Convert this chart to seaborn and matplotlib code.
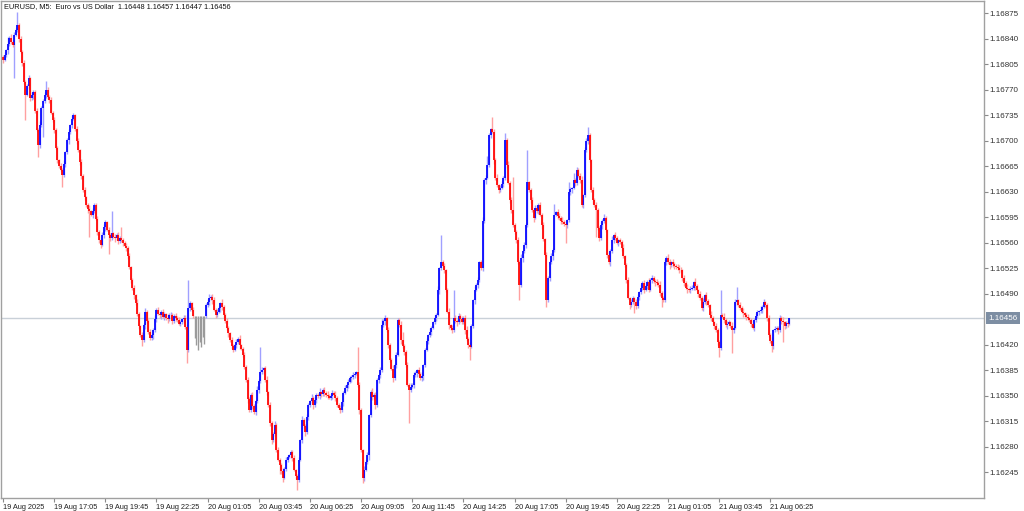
import numpy as np
import seaborn as sns
import matplotlib.pyplot as plt
from matplotlib import transforms

# EURUSD M5 candles, closes in points above 1.16000 (1 point = 0.00001)
first_open = 815
closes = [
    811, 818, 824, 832, 841, 836, 831, 845, 852, 859,
    840, 822, 806, 781, 763, 775, 786, 758, 762, 767,
    741, 715, 694, 722, 745, 754, 763, 770, 760, 756,
    738, 728, 715, 690, 673, 665, 660, 653, 668, 684,
    701, 712, 721, 730, 735, 716, 700, 687, 670, 651,
    632, 622, 612, 606, 603, 598, 604, 612, 593, 575,
    563, 557, 570, 581, 588, 578, 570, 566, 573, 568,
    566, 570, 562, 567, 564, 560, 556, 553, 541, 526,
    509, 498, 488, 477, 462, 445, 433, 426, 447, 465,
    452, 438, 429, 433, 440, 455, 468, 462, 460, 465,
    458, 462, 457, 455, 460, 461, 452, 459, 457, 454,
    449, 451, 455, 457, 444, 413, 470, 477, 468, 459,
    459, 459, 459, 459, 459, 459, 459,
    474, 479, 484,
    486, 481, 468, 461, 465, 470, 477, 471, 461, 452,
    443, 436, 426, 418, 413, 420, 424, 428, 419, 414,
    406, 390, 371, 345, 330, 351, 336, 328, 342, 358,
    370, 382, 385, 388, 372, 355, 337, 312, 289, 298,
    310, 275, 262, 255, 246, 237, 250, 262, 266, 268,
    272, 264, 248, 240, 234, 262, 289, 317, 309, 300,
    321, 337, 342, 347, 337, 344, 351, 349, 355, 352,
    358, 354, 351, 349, 347, 350, 354, 351, 347, 337,
    333, 330, 341, 354, 360, 365, 369, 374, 376, 378,
    380, 382, 365, 330, 275, 237, 248, 259, 268, 323,
    355, 348, 351, 337, 371, 378, 385, 447, 452, 456,
    440, 419, 399, 387, 374, 392, 406, 454, 447, 426,
    418, 410, 392, 365, 358, 362, 365, 378, 381, 385,
    380, 374, 377, 392, 413, 425, 433, 438, 443, 451,
    456, 461, 495, 525, 533, 528, 522, 495, 465, 447,
    443, 440, 457, 453, 451, 459, 455, 451, 457, 440,
    428, 419, 417, 446, 481, 495, 502, 509, 533, 525,
    590, 646, 649, 667, 708, 716, 712, 673, 649, 639,
    632, 635, 641, 649, 701, 667, 642, 618, 605, 584,
    575, 564, 533, 502, 539, 548, 557, 584, 643, 632,
    618, 605, 594, 608, 603, 612, 598, 584, 565, 543,
    481, 511, 533, 541, 550, 598, 602, 597, 594, 590,
    588, 586, 584, 591, 629, 633, 635, 646, 642, 660,
    652, 646, 612, 625, 687, 700, 708, 673, 632, 618,
    611, 605, 580, 566, 584, 590, 594, 577, 543, 533,
    548, 564, 570, 566, 560, 563, 561, 553, 541, 529,
    509, 484, 474, 478, 484, 479, 473, 486, 492, 498,
    505, 495, 501, 506, 495, 509, 511, 508, 506, 504,
    502, 491, 484, 481, 533, 539, 534, 529, 533, 530,
    528, 526, 525, 523, 522, 511, 504, 498, 496, 495,
    497, 498, 506, 500, 495, 490, 484, 470, 479, 488,
    480, 474, 461, 456, 451, 446, 440, 424, 415, 461,
    458, 454, 447, 449, 451, 446, 440, 443, 478, 481,
    475, 470, 465, 463, 461, 458, 456, 454, 449, 443,
    454, 459, 465, 466, 468, 472, 478, 474, 456, 433,
    425, 418, 440, 442, 443, 440, 456, 453, 451, 445,
    450, 448, 456,
]

# upper / lower shadow length beyond the body, in points
wick_hi = [
    3, 4, 2, 10, 3, 5, 2, 4, 3, 17, 2, 4, 3, 5, 2, 3, 4, 2, 5, 3,
    2, 4, 3, 5, 2, 3, 4, 12, 3, 2, 4, 3, 5, 2, 3, 2, 4, 3, 5, 2,
    3, 4, 2, 5, 3, 2, 4, 3, 2, 5, 3, 4, 2, 3, 5, 2, 4, 3, 2, 4,
    3, 2, 5, 4, 3, 2, 4, 3, 30, 2, 4, 3, 5, 2, 14, 3, 2, 4, 3, 5,
    2, 3, 4, 2, 5, 3, 2, 4, 3, 5, 2, 3, 4, 2, 3, 5, 2, 4, 3, 2,
    4, 3, 2, 5, 3, 4, 2, 3, 5, 2, 4, 3, 2, 4, 3, 5, 39, 3, 2, 4,
    0, 0, 0, 0, 0, 0, 0, 3, 4, 6, 2, 3, 5, 2, 4, 3, 2, 5, 3, 2,
    4, 3, 2, 5, 3, 2, 4, 3, 5, 2, 3, 4, 2, 5, 3, 2, 4, 3, 2, 5,
    3, 35, 4, 2, 3, 5, 2, 4, 3, 2, 5, 3, 4, 2, 3, 5, 2, 4, 3, 2,
    4, 3, 5, 2, 3, 4, 2, 5, 3, 2, 4, 3, 2, 5, 3, 4, 2, 3, 5, 2,
    3, 4, 2, 5, 3, 2, 4, 3, 5, 2, 3, 4, 2, 3, 5, 2, 4, 3, 2, 4,
    3, 2, 35, 4, 3, 2, 5, 3, 4, 2, 3, 5, 2, 4, 3, 2, 4, 8, 3, 5,
    2, 4, 3, 2, 5, 3, 4, 2, 3, 5, 12, 3, 2, 4, 3, 5, 2, 4, 3, 2,
    4, 3, 5, 2, 3, 4, 2, 5, 3, 2, 4, 3, 5, 2, 37, 3, 4, 2, 3, 5,
    2, 4, 38, 3, 2, 5, 3, 4, 2, 3, 5, 2, 4, 3, 2, 5, 3, 4, 2, 3,
    5, 3, 4, 12, 3, 2, 16, 4, 3, 5, 2, 4, 3, 2, 10, 3, 5, 2, 4, 45,
    3, 2, 4, 3, 5, 2, 4, 3, 44, 2, 3, 5, 2, 4, 3, 2, 4, 3, 5, 2,
    4, 3, 2, 5, 3, 15, 2, 4, 3, 2, 5, 3, 4, 2, 14, 3, 2, 10, 3, 4,
    2, 3, 5, 2, 4, 3, 11, 3, 2, 4, 3, 5, 2, 3, 4, 2, 5, 3, 2, 4,
    3, 5, 2, 4, 3, 2, 4, 3, 5, 2, 3, 4, 2, 5, 3, 2, 4, 3, 2, 5,
    3, 4, 2, 3, 5, 2, 4, 3, 2, 4, 3, 5, 2, 3, 4, 2, 5, 3, 2, 4,
    3, 2, 5, 4, 3, 2, 4, 3, 5, 2, 3, 4, 2, 5, 3, 2, 4, 3, 5, 2,
    4, 3, 2, 5, 3, 2, 4, 3, 2, 34, 3, 5, 2, 4, 3, 2, 5, 3, 4, 18,
    2, 4, 3, 5, 2, 3, 4, 2, 3, 5, 2, 4, 3, 2, 5, 3, 4, 2, 3, 4,
    3, 5, 2, 4, 3, 2, 4, 3, 5, 2, 3, 4, 1,
]
wick_lo = [
    4, 2, 3, 5, 2, 4, 3, 45, 2, 3, 5, 2, 4, 3, 35, 2, 4, 3, 2, 5,
    3, 2, 17, 4, 3, 40, 2, 5, 3, 4, 2, 3, 5, 2, 4, 3, 2, 17, 3, 4,
    2, 5, 3, 4, 2, 3, 5, 2, 4, 3, 2, 4, 3, 5, 35, 2, 4, 3, 2, 5,
    3, 4, 2, 3, 5, 2, 26, 4, 3, 2, 5, 3, 4, 2, 3, 5, 2, 4, 3, 2,
    4, 3, 5, 2, 3, 4, 2, 8, 3, 5, 2, 4, 3, 2, 5, 3, 4, 2, 3, 5,
    2, 4, 3, 5, 2, 3, 4, 2, 5, 3, 2, 4, 3, 5, 2, 18, 3, 4, 2, 3,
    30, 40, 46, 35, 42, 28, 38, 3, 2, 4, 3, 5, 2, 4, 3, 2, 5, 3, 4, 2,
    3, 5, 2, 4, 3, 2, 4, 3, 5, 2, 3, 4, 2, 5, 3, 2, 4, 3, 5, 2,
    4, 3, 2, 5, 3, 4, 2, 3, 5, 2, 4, 3, 2, 12, 3, 5, 2, 4, 3, 2,
    3, 4, 2, 5, 14, 3, 2, 4, 3, 5, 2, 4, 3, 2, 5, 3, 4, 2, 3, 4,
    2, 5, 3, 4, 2, 3, 5, 2, 4, 3, 2, 4, 3, 5, 2, 3, 4, 2, 5, 3,
    4, 2, 3, 5, 3, 7, 4, 2, 3, 6, 2, 4, 3, 5, 2, 3, 4, 2, 3, 5,
    2, 4, 3, 2, 5, 3, 4, 2, 3, 5, 2, 4, 3, 2, 46, 3, 2, 4, 3, 5,
    3, 2, 4, 5, 3, 2, 4, 3, 5, 2, 3, 4, 2, 5, 3, 2, 4, 3, 2, 5,
    3, 4, 2, 3, 5, 2, 4, 3, 2, 5, 3, 4, 18, 2, 3, 5, 2, 4, 3, 2,
    4, 3, 5, 2, 3, 4, 2, 5, 3, 2, 4, 3, 2, 5, 3, 4, 2, 3, 5, 2,
    3, 4, 2, 21, 3, 5, 2, 4, 3, 2, 4, 3, 5, 2, 3, 4, 2, 5, 3, 2,
    10, 3, 4, 2, 5, 3, 2, 4, 3, 5, 2, 3, 25, 4, 2, 3, 5, 2, 4, 3,
    2, 4, 3, 5, 2, 3, 4, 2, 3, 5, 2, 37, 3, 4, 2, 5, 3, 2, 4, 3,
    5, 2, 4, 3, 2, 5, 3, 4, 2, 3, 4, 2, 5, 3, 2, 16, 4, 3, 5, 2,
    3, 4, 2, 5, 3, 2, 4, 3, 5, 2, 3, 4, 12, 3, 2, 4, 3, 5, 2, 3,
    4, 2, 3, 5, 2, 4, 3, 2, 5, 3, 4, 2, 3, 5, 2, 4, 3, 2, 4, 3,
    5, 2, 3, 4, 2, 5, 3, 4, 12, 3, 2, 4, 3, 5, 2, 3, 32, 4, 2, 3,
    4, 3, 2, 5, 3, 4, 2, 3, 5, 2, 4, 3, 2, 5, 3, 4, 2, 3, 4, 2,
    3, 8, 4, 2, 3, 5, 2, 4, 27, 3, 2, 4, 1,
]

x_tick_bars = [0, 32, 64, 96, 128, 160, 192, 224, 256, 288, 320, 352, 384, 416, 448, 480]
x_labels = ["19 Aug 2025", "19 Aug 17:05", "19 Aug 19:45", "19 Aug 22:25",
            "20 Aug 01:05", "20 Aug 03:45", "20 Aug 06:25", "20 Aug 09:05",
            "20 Aug 11:45", "20 Aug 14:25", "20 Aug 17:05", "20 Aug 19:45",
            "20 Aug 22:25", "21 Aug 01:05", "21 Aug 03:45", "21 Aug 06:25"]
y_ticks = [1.16245, 1.16280, 1.16315, 1.16350, 1.16385, 1.16420, 1.16490,
           1.16525, 1.16560, 1.16595, 1.16630, 1.16665, 1.16700, 1.16735,
           1.16770, 1.16805, 1.16840, 1.16875]
last_price = 1.16456
title = "EURUSD, M5:  Euro vs US Dollar  1.16448 1.16457 1.16447 1.16456"

# build OHLC
base = 1.16
c = base + np.array(closes) / 1e5
o = np.concatenate([[base + first_open / 1e5], c[:-1]])
top = np.maximum(o, c)
bot = np.minimum(o, c)
hi = top + np.array(wick_hi) / 1e5
lo = bot - np.array(wick_lo) / 1e5
bars = np.arange(len(c))

sns.set_theme(style="white")
plt.rcParams['font.family'] = ['Liberation Sans', 'DejaVu Sans']

fig = plt.figure(figsize=(10.24, 5.11), dpi=100)
ax = fig.add_axes([0.001, 0.0254, 0.960, 0.9726])

up = c > o
dn = c < o
eq = c == o

ax.axhline(last_price, color='#c9d0d8', lw=1, zorder=0)

for mask, body_col, wick_col in [(up, '#0000ff', '#a0a0ff'),
                                 (dn, '#ff0000', '#ffa0a0'),
                                 (eq, '#8c8c8c', '#9a9a9a')]:
    ax.vlines(bars[mask], lo[mask], hi[mask], color=wick_col, lw=1.0, zorder=1)
    ax.vlines(bars[mask], bot[mask], top[mask], color=body_col, lw=1.25, zorder=2)

ax.set_xlim(-1.25, 613.75)
ax.set_ylim(1.162095, 1.168916)

# axes on the right / bottom like the terminal
ax.yaxis.tick_right()
ax.set_yticks(y_ticks)
ax.set_yticklabels([f"{v:.5f}" for v in y_ticks])
ax.set_xticks(x_tick_bars)
ax.set_xticklabels(x_labels, ha='left')
ax.tick_params(axis='y', which='major', length=3, width=0.8, color='#8a8a8a',
               labelsize=5.8, labelcolor='#303030', pad=1, right=True, left=False)
ax.tick_params(axis='x', which='major', length=3, width=0.8, color='#8a8a8a',
               labelsize=5.3, labelcolor='#202020', pad=1.5, bottom=True)
for s in ax.spines.values():
    s.set_color('#a0a0a0')
    s.set_linewidth(1)

# current price tag
trans = transforms.blended_transform_factory(ax.transAxes, ax.transData)
ax.text(1.004, last_price, f"{last_price:.5f}", transform=trans, ha='left', va='center',
        fontsize=5.8, color='white',
        bbox=dict(boxstyle='square,pad=0.3', facecolor='#7d8ea3', edgecolor='none'))

ax.text(0.003, 0.995, title, transform=ax.transAxes, ha='left', va='top',
        fontsize=5.3, color='#111111')

fig.savefig('out.png', dpi=100)
